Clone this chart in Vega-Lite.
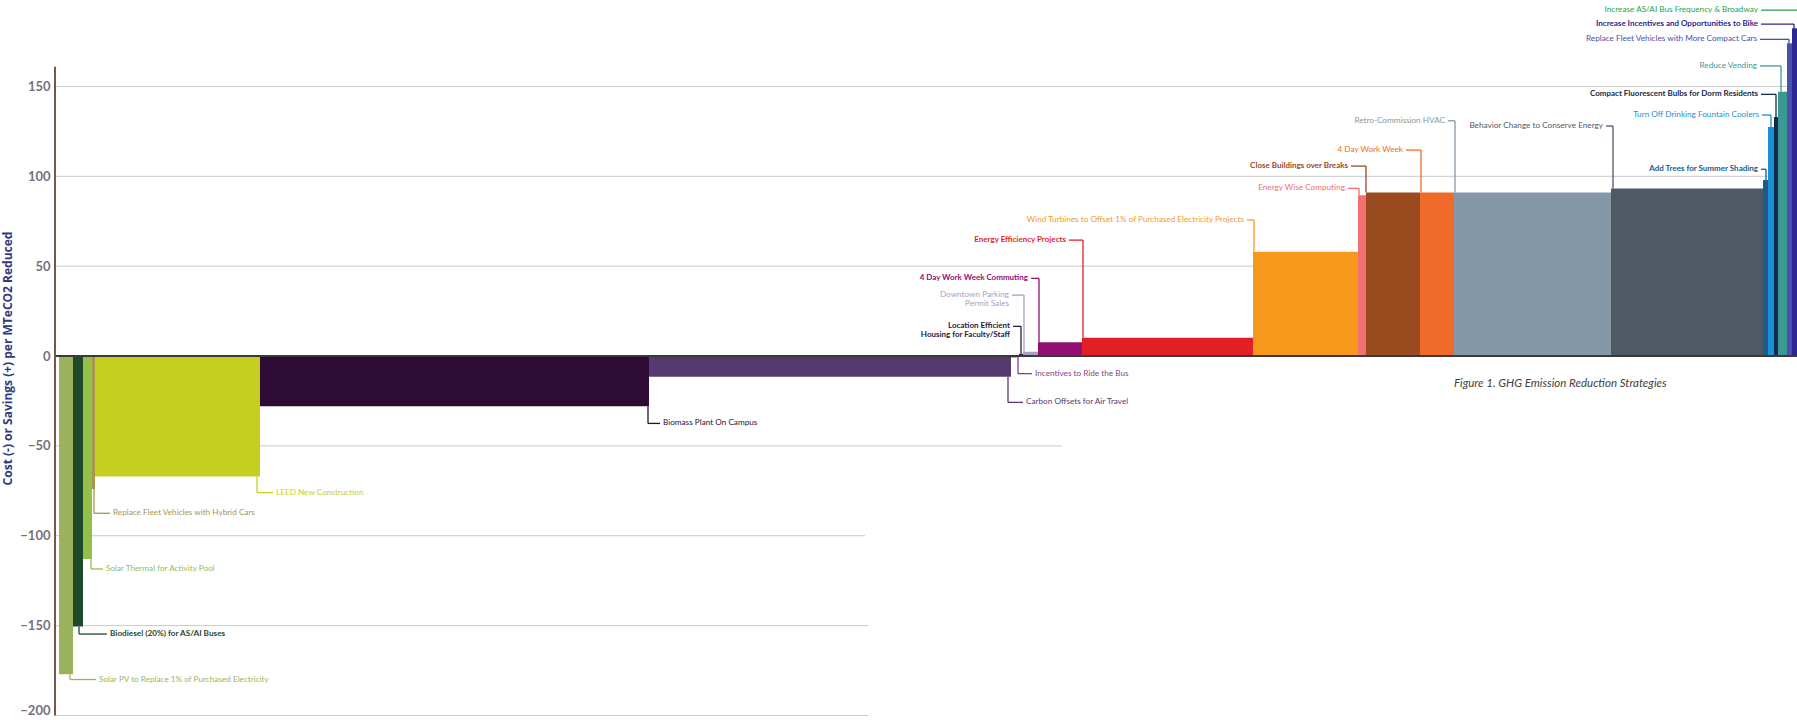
{
  "$schema": "https://vega.github.io/schema/vega-lite/v6.json",
  "width": 1742,
  "height": 716,
  "autosize": {"type": "none"},
  "padding": {"left": 55, "top": 0, "right": 0, "bottom": 4},
  "background": "white",
  "config": {
    "view": {"stroke": null},
    "font": "Lato",
    "axisY": {
      "grid": false, "domain": false, "ticks": false,
      "labelPadding": 5, "labelFontSize": 13, "labelFontWeight": "bold", "labelColor": "#7a7078", "labelFont": "Lato",
      "titleFont": "Open Sans", "titleFontSize": 12, "titleFontWeight": "bold", "titleColor": "#2f3b7e", "titlePadding": 5
    }
  },
  "datasets": {
    "grid": [
      {"g": 150, "gx1": 0, "gx2": 1742},
      {"g": 100, "gx1": 0, "gx2": 1742},
      {"g": 50, "gx1": 0, "gx2": 1742},
      {"g": -50, "gx1": 0, "gx2": 1007},
      {"g": -100, "gx1": 0, "gx2": 810},
      {"g": -150, "gx1": 0, "gx2": 813},
      {"g": -200, "gx1": 0, "gx2": 813}
    ],
    "strategies": [
      {"name": "Solar PV to Replace 1% of Purchased Electricity", "label": "Solar PV to Replace 1% of Purchased Electricity", "side": "L", "x0": 4, "x1": 18, "value": -177, "ex": 15, "ly": -180, "lx": 41},
      {"name": "Biodiesel (20%) for AS/AI Buses", "label": "Biodiesel (20%) for AS/AI Buses", "side": "L", "x0": 18, "x1": 28, "value": -150.5, "ex": 24, "ly": -154.7, "lx": 52},
      {"name": "Solar Thermal for Activity Pool", "label": "Solar Thermal for Activity Pool", "side": "L", "x0": 28, "x1": 37, "value": -113, "ex": 36, "ly": -118.5, "lx": 48},
      {"name": "Replace Fleet Vehicles with Hybrid Cars", "label": "Replace Fleet Vehicles with Hybrid Cars", "side": "L", "x0": 37, "x1": 40, "value": -74, "ex": 39, "ly": -87.5, "lx": 55},
      {"name": "LEED New Construction", "label": "LEED New Construction", "side": "L", "x0": 40, "x1": 205, "value": -67, "ex": 202, "ly": -76, "lx": 218},
      {"name": "Biomass Plant On Campus", "label": "Biomass Plant On Campus", "side": "L", "x0": 205, "x1": 594, "value": -28, "ex": 593, "ly": -37.5, "lx": 605},
      {"name": "Carbon Offsets for Air Travel", "label": "Carbon Offsets for Air Travel", "side": "L", "x0": 594, "x1": 956, "value": -11.6, "ex": 953, "ly": -25.8, "lx": 968},
      {"name": "Incentives to Ride the Bus", "label": "Incentives to Ride the Bus", "side": "L", "x0": 956, "x1": 964, "value": -0.8, "ex": 963, "ly": -9.8, "lx": 977},
      {"name": "Location Efficient Housing for Faculty/Staff", "label": "Location Efficient\nHousing for Faculty/Staff", "side": "R", "x0": 964, "x1": 968, "value": 1.2, "ex": 966, "ly": 16.5, "lx": 958},
      {"name": "Downtown Parking Permit Sales", "label": "Downtown Parking\nPermit Sales", "side": "R", "x0": 968, "x1": 983, "value": 2.4, "ex": 969, "ly": 33.9, "lx": 957},
      {"name": "4 Day Work Week Commuting", "label": "4 Day Work Week Commuting", "side": "R", "x0": 983, "x1": 1027, "value": 7.7, "ex": 984, "ly": 43.2, "lx": 976},
      {"name": "Energy Efficiency Projects", "label": "Energy Efficiency Projects", "side": "R", "x0": 1027, "x1": 1198, "value": 10.2, "ex": 1028, "ly": 64.5, "lx": 1014},
      {"name": "Wind Turbines to Offset 1% of Purchased Electricity Projects", "label": "Wind Turbines to Offset 1% of Purchased Electricity Projects", "side": "R", "x0": 1198, "x1": 1303, "value": 58, "ex": 1199, "ly": 75.7, "lx": 1192},
      {"name": "Energy Wise Computing", "label": "Energy Wise Computing", "side": "R", "x0": 1303, "x1": 1311, "value": 89.5, "ex": 1304, "ly": 93.3, "lx": 1293},
      {"name": "Close Buildings over Breaks", "label": "Close Buildings over Breaks", "side": "R", "x0": 1311, "x1": 1365, "value": 91, "ex": 1311, "ly": 105.7, "lx": 1296},
      {"name": "4 Day Work Week", "label": "4 Day Work Week", "side": "R", "x0": 1365, "x1": 1399, "value": 91, "ex": 1366, "ly": 114.6, "lx": 1351},
      {"name": "Retro-Commission HVAC", "label": "Retro-Commission HVAC", "side": "R", "x0": 1399, "x1": 1556, "value": 91, "ex": 1400, "ly": 130.9, "lx": 1393},
      {"name": "Behavior Change to Conserve Energy", "label": "Behavior Change to Conserve Energy", "side": "R", "x0": 1556, "x1": 1708, "value": 93.2, "ex": 1558, "ly": 128, "lx": 1551},
      {"name": "Add Trees for Summer Shading", "label": "Add Trees for Summer Shading", "side": "R", "x0": 1708, "x1": 1713, "value": 98, "ex": 1711, "ly": 103.9, "lx": 1706},
      {"name": "Turn Off Drinking Fountain Coolers", "label": "Turn Off Drinking Fountain Coolers", "side": "R", "x0": 1713, "x1": 1719, "value": 127.5, "ex": 1716, "ly": 134.1, "lx": 1707},
      {"name": "Compact Fluorescent Bulbs for Dorm Residents", "label": "Compact Fluorescent Bulbs for Dorm Residents", "side": "R", "x0": 1719, "x1": 1723, "value": 133, "ex": 1721, "ly": 145.6, "lx": 1706},
      {"name": "Reduce Vending", "label": "Reduce Vending", "side": "R", "x0": 1723, "x1": 1732, "value": 147, "ex": 1726, "ly": 161.4, "lx": 1705},
      {"name": "Replace Fleet Vehicles with More Compact Cars", "label": "Replace Fleet Vehicles with More Compact Cars", "side": "R", "x0": 1732, "x1": 1737, "value": 174, "ex": 1734, "ly": 176.2, "lx": 1705},
      {"name": "Increase Incentives and Opportunities to Bike", "label": "Increase Incentives and Opportunities to Bike", "side": "R", "x0": 1737, "x1": 1742, "value": 182.4, "ex": 1739, "ly": 184.7, "lx": 1706},
      {"name": "Increase AS/AI Bus Frequency & Broadway", "label": "Increase AS/AI Bus Frequency & Broadway", "side": "R", "x0": 1742, "x1": 1750, "value": 195, "ex": 1746, "ly": 192.5, "lx": 1706}
    ]
  },
  "layer": [
    {
      "data": {"name": "grid"},
      "mark": {"type": "rule", "color": "#c9c9c9", "strokeWidth": 1},
      "encoding": {
        "x": {"field": "gx1", "type": "quantitative", "scale": {"domain": [0, 1742], "nice": false, "zero": false}, "axis": null},
        "x2": {"field": "gx2"},
        "y": {
          "field": "g", "type": "quantitative",
          "scale": {"domain": [-200.3, 198.1], "nice": false, "zero": false},
          "title": "Cost (-) or Savings (+) per MTeCO2 Reduced",
          "axis": {"values": [-200, -150, -100, -50, 0, 50, 100, 150], "labelOffset": {"condition": {"test": "datum.value === -200", "value": -5}, "value": 0}}
        }
      }
    },
    {
      "data": {"name": "strategies"},
      "mark": {"type": "rect", "clip": true},
      "encoding": {
        "x": {"field": "x0", "type": "quantitative", "axis": null},
        "x2": {"field": "x1"},
        "y": {"field": "value", "type": "quantitative", "title": "Cost (-) or Savings (+) per MTeCO2 Reduced", "axis": {"values": [-200, -150, -100, -50, 0, 50, 100, 150], "labelOffset": {"condition": {"test": "datum.value === -200", "value": -5}, "value": 0}}},
        "y2": {"datum": 0},
        "color": {
          "field": "name", "type": "nominal", "legend": null,
          "scale": {
            "domain": ["Solar PV to Replace 1% of Purchased Electricity", "Biodiesel (20%) for AS/AI Buses", "Solar Thermal for Activity Pool", "Replace Fleet Vehicles with Hybrid Cars", "LEED New Construction", "Biomass Plant On Campus", "Carbon Offsets for Air Travel", "Incentives to Ride the Bus", "Location Efficient Housing for Faculty/Staff", "Downtown Parking Permit Sales", "4 Day Work Week Commuting", "Energy Efficiency Projects", "Wind Turbines to Offset 1% of Purchased Electricity Projects", "Energy Wise Computing", "Close Buildings over Breaks", "4 Day Work Week", "Retro-Commission HVAC", "Behavior Change to Conserve Energy", "Add Trees for Summer Shading", "Turn Off Drinking Fountain Coolers", "Compact Fluorescent Bulbs for Dorm Residents", "Reduce Vending", "Replace Fleet Vehicles with More Compact Cars", "Increase Incentives and Opportunities to Bike", "Increase AS/AI Bus Frequency & Broadway"],
            "range": ["#9cb35e", "#1f4a2b", "#94c04a", "#a8954e", "#c6cf1f", "#2e0b35", "#56396f", "#8b3f86", "#22223e", "#a79fbf", "#8f0f73", "#e21f26", "#f7981d", "#f2706f", "#9a4a1f", "#f06b29", "#8598a7", "#4f5964", "#1d5a8a", "#1b8fd5", "#15294b", "#3a9a92", "#4b4fae", "#2b2690", "#22a64b"]
          }
        }
      }
    },
    {
      "data": {"values": [{"zx1": 0, "zx2": 1742, "zy": 0}]},
      "mark": {"type": "rule", "color": "#3a3a3a", "strokeWidth": 2},
      "encoding": {
        "x": {"field": "zx1", "type": "quantitative", "axis": null},
        "x2": {"field": "zx2"},
        "y": {"field": "zy", "type": "quantitative", "title": "Cost (-) or Savings (+) per MTeCO2 Reduced", "axis": {"values": [-200, -150, -100, -50, 0, 50, 100, 150], "labelOffset": {"condition": {"test": "datum.value === -200", "value": -5}, "value": 0}}}
      }
    },
    {
      "data": {"values": [{"ax": 0, "ay1": -200, "ay2": 161}]},
      "mark": {"type": "rule", "color": "#7b5646", "strokeWidth": 2},
      "encoding": {
        "x": {"field": "ax", "type": "quantitative", "axis": null},
        "y": {"field": "ay1", "type": "quantitative", "title": "Cost (-) or Savings (+) per MTeCO2 Reduced", "axis": {"values": [-200, -150, -100, -50, 0, 50, 100, 150], "labelOffset": {"condition": {"test": "datum.value === -200", "value": -5}, "value": 0}}},
        "y2": {"field": "ay2"}
      }
    },
    {
      "data": {"name": "strategies"},
      "mark": {"type": "rule", "strokeWidth": 1.3, "clip": true},
      "encoding": {
        "x": {"field": "lx", "type": "quantitative", "axis": null},
        "x2": {"field": "ex"},
        "y": {"field": "ly", "type": "quantitative", "title": "Cost (-) or Savings (+) per MTeCO2 Reduced", "axis": {"values": [-200, -150, -100, -50, 0, 50, 100, 150], "labelOffset": {"condition": {"test": "datum.value === -200", "value": -5}, "value": 0}}},
        "color": {"field": "name", "type": "nominal", "legend": null}
      }
    },
    {
      "data": {"name": "strategies"},
      "mark": {"type": "rule", "strokeWidth": 1.3, "clip": true},
      "encoding": {
        "x": {"field": "ex", "type": "quantitative", "axis": null},
        "y": {"field": "ly", "type": "quantitative", "title": "Cost (-) or Savings (+) per MTeCO2 Reduced", "axis": {"values": [-200, -150, -100, -50, 0, 50, 100, 150], "labelOffset": {"condition": {"test": "datum.value === -200", "value": -5}, "value": 0}}},
        "y2": {"field": "value"},
        "color": {"field": "name", "type": "nominal", "legend": null}
      }
    },
    {
      "data": {"name": "strategies"},
      "transform": [{"filter": "datum.side === 'L' && indexof(['Biodiesel (20%) for AS/AI Buses'], datum.name) < 0"}],
      "mark": {"type": "text", "align": "left", "baseline": "top", "dx": 3, "dy": -4, "fontSize": 8.2, "font": "Lato", "lineBreak": "\n", "lineHeight": 9},
      "encoding": {
        "x": {"field": "lx", "type": "quantitative", "axis": null},
        "y": {"field": "ly", "type": "quantitative", "title": "Cost (-) or Savings (+) per MTeCO2 Reduced", "axis": {"values": [-200, -150, -100, -50, 0, 50, 100, 150], "labelOffset": {"condition": {"test": "datum.value === -200", "value": -5}, "value": 0}}},
        "text": {"field": "label"},
        "color": {"field": "name", "type": "nominal", "legend": null}
      }
    },
    {
      "data": {"name": "strategies"},
      "transform": [{"filter": "datum.side === 'L' && indexof(['Biodiesel (20%) for AS/AI Buses'], datum.name) >= 0"}],
      "mark": {"type": "text", "align": "left", "baseline": "top", "dx": 3, "dy": -4, "fontSize": 8.2, "fontWeight": "bold", "font": "Lato", "lineBreak": "\n", "lineHeight": 9},
      "encoding": {
        "x": {"field": "lx", "type": "quantitative", "axis": null},
        "y": {"field": "ly", "type": "quantitative", "title": "Cost (-) or Savings (+) per MTeCO2 Reduced", "axis": {"values": [-200, -150, -100, -50, 0, 50, 100, 150], "labelOffset": {"condition": {"test": "datum.value === -200", "value": -5}, "value": 0}}},
        "text": {"field": "label"},
        "color": {"field": "name", "type": "nominal", "legend": null}
      }
    },
    {
      "data": {"name": "strategies"},
      "transform": [{"filter": "datum.side === 'R' && indexof(['4 Day Work Week Commuting', 'Energy Efficiency Projects', 'Location Efficient Housing for Faculty/Staff', 'Close Buildings over Breaks', 'Compact Fluorescent Bulbs for Dorm Residents', 'Increase Incentives and Opportunities to Bike', 'Add Trees for Summer Shading'], datum.name) < 0"}],
      "mark": {"type": "text", "align": "right", "baseline": "top", "dx": -3, "dy": -4, "fontSize": 8.2, "font": "Lato", "lineBreak": "\n", "lineHeight": 9},
      "encoding": {
        "x": {"field": "lx", "type": "quantitative", "axis": null},
        "y": {"field": "ly", "type": "quantitative", "title": "Cost (-) or Savings (+) per MTeCO2 Reduced", "axis": {"values": [-200, -150, -100, -50, 0, 50, 100, 150], "labelOffset": {"condition": {"test": "datum.value === -200", "value": -5}, "value": 0}}},
        "text": {"field": "label"},
        "color": {"field": "name", "type": "nominal", "legend": null}
      }
    },
    {
      "data": {"name": "strategies"},
      "transform": [{"filter": "datum.side === 'R' && indexof(['4 Day Work Week Commuting', 'Energy Efficiency Projects', 'Location Efficient Housing for Faculty/Staff', 'Close Buildings over Breaks', 'Compact Fluorescent Bulbs for Dorm Residents', 'Increase Incentives and Opportunities to Bike', 'Add Trees for Summer Shading'], datum.name) >= 0"}],
      "mark": {"type": "text", "align": "right", "baseline": "top", "dx": -3, "dy": -4, "fontSize": 8, "fontWeight": "bold", "font": "Lato", "lineBreak": "\n", "lineHeight": 9},
      "encoding": {
        "x": {"field": "lx", "type": "quantitative", "axis": null},
        "y": {"field": "ly", "type": "quantitative", "title": "Cost (-) or Savings (+) per MTeCO2 Reduced", "axis": {"values": [-200, -150, -100, -50, 0, 50, 100, 150], "labelOffset": {"condition": {"test": "datum.value === -200", "value": -5}, "value": 0}}},
        "text": {"field": "label"},
        "color": {"field": "name", "type": "nominal", "legend": null}
      }
    },
    {
      "data": {"values": [{"caption": "Figure 1. GHG Emission Reduction Strategies", "cx": 1399, "cy": -15.7}]},
      "mark": {"type": "text", "align": "left", "baseline": "middle", "fontSize": 11.5, "fontStyle": "italic", "font": "Lato", "color": "#404040"},
      "encoding": {
        "x": {"field": "cx", "type": "quantitative", "axis": null},
        "y": {"field": "cy", "type": "quantitative", "title": "Cost (-) or Savings (+) per MTeCO2 Reduced", "axis": {"values": [-200, -150, -100, -50, 0, 50, 100, 150], "labelOffset": {"condition": {"test": "datum.value === -200", "value": -5}, "value": 0}}},
        "text": {"field": "caption"}
      }
    }
  ]
}
